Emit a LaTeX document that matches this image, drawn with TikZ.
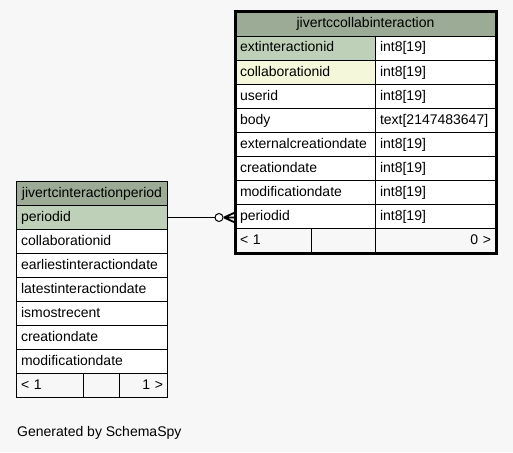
\documentclass[tikz,border=0pt]{standalone}
\usepackage{fontspec}
\setmainfont{Liberation Sans}
\usetikzlibrary{calc}
\definecolor{bgc}{HTML}{F7F7F7}
\definecolor{hdr}{HTML}{9BAB96}
\definecolor{pk}{HTML}{BED1B8}
\definecolor{idx}{HTML}{F4F7DA}
\newcommand\tabfont{\fontsize{14pt}{16pt}\selectfont}
\begin{document}
\begin{tikzpicture}[x=1pt,y=-1pt,
  cell/.style={draw=black, line width=1pt, anchor=north west, minimum height=24pt,
    inner xsep=4.5pt, inner ysep=0pt, text height=10pt, text depth=3pt,
    font=\tabfont, fill=white, align=left},
  head/.style={cell, fill=hdr, align=center},
  pkey/.style={fill=pk},
  idxc/.style={fill=idx},
  foot/.style={fill=bgc},
  rname/.style={text width=131pt},
  rtype/.style={text width=111pt},
  lname/.style={text width=142pt},
  conn/.style={draw=black, line width=1pt}
]
\useasboundingbox (0,0) rectangle (513,452);
\fill[bgc] (0,0) rectangle (513,452);

% right table
\node[head, text width=251pt] (rh) at (235,12) {jivertccollabinteraction};
\node[cell, rname, pkey] (rn1) at (235,36) {extinteractionid};
\node[cell, rtype] (rt1) at (375,36) {int8[19]};
\node[cell, rname, idxc] (rn2) at (235,60) {collaborationid};
\node[cell, rtype] (rt2) at (375,60) {int8[19]};
\node[cell, rname] (rn3) at (235,84) {userid};
\node[cell, rtype] (rt3) at (375,84) {int8[19]};
\node[cell, rname] (rn4) at (235,108) {body};
\node[cell, rtype] (rt4) at (375,108) {text[2147483647]};
\node[cell, rname] (rn5) at (235,132) {externalcreationdate};
\node[cell, rtype] (rt5) at (375,132) {int8[19]};
\node[cell, rname] (rn6) at (235,156) {creationdate};
\node[cell, rtype] (rt6) at (375,156) {int8[19]};
\node[cell, rname] (rn7) at (235,180) {modificationdate};
\node[cell, rtype] (rt7) at (375,180) {int8[19]};
\node[cell, rname] (rn8) at (235,204) {periodid};
\node[cell, rtype] (rt8) at (375,204) {int8[19]};
\node[cell, foot, text width=67pt] (rf1) at (235,228) {< 1};
\node[cell, foot, text width=55pt] (rf2) at (311,228) {};
\node[cell, foot, text width=111pt, align=right] (rf3) at (375,228) {0 >};
\draw[line width=3pt] (rh.north west) rectangle (rf3.south east);

% left table
\node[head, text width=142pt] (lh) at (16,181) {jivertcinteractionperiod};
\node[cell, lname, pkey] (l1) at (16,205) {periodid};
\node[cell, lname] (l2) at (16,229) {collaborationid};
\node[cell, lname] (l3) at (16,253) {earliestinteractiondate};
\node[cell, lname] (l4) at (16,277) {latestinteractiondate};
\node[cell, lname] (l5) at (16,301) {ismostrecent};
\node[cell, lname] (l6) at (16,325) {creationdate};
\node[cell, lname] (l7) at (16,349) {modificationdate};
\node[cell, foot, text width=58pt] (lf1) at (16,373) {< 1};
\node[cell, foot, text width=27pt] (lf2) at (83,373) {};
\node[cell, foot, text width=39pt, align=right] (lf3) at (119,373) {1 >};

% connector
\coordinate (ce) at (rn8.west |- l1.east);
\draw[conn] (l1.east) -- ($(ce)+(-20,0)$);
\draw[conn, fill=white] ($(ce)+(-16,0)$) circle[radius=4pt];
\draw[conn, line width=1.8pt] ($(ce)+(-11,0)$) -- ($(ce)+(0,-5)$)
  ($(ce)+(-11,0)$) -- (ce) ($(ce)+(-11,0)$) -- ($(ce)+(0,5)$);

\node[anchor=base west, inner sep=0pt, font=\fontsize{14pt}{16pt}\selectfont] (gen) at (17,436) {Generated by SchemaSpy};
\end{tikzpicture}
\end{document}
